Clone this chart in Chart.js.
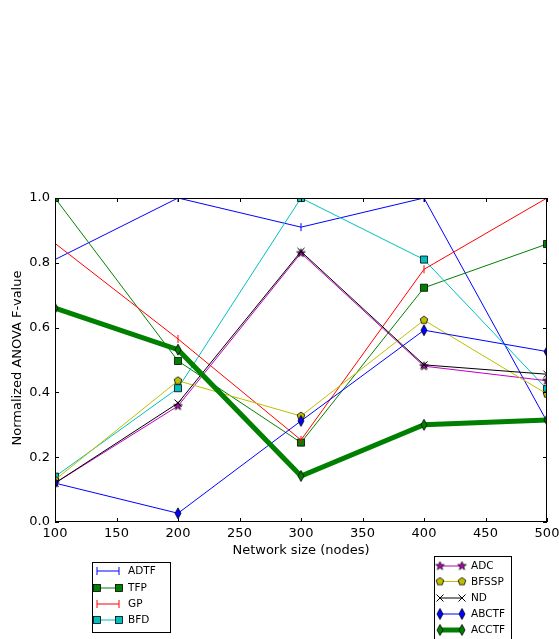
<!DOCTYPE html>
<html>
<head>
<meta charset="utf-8">
<script src="https://cdn.jsdelivr.net/npm/chart.js@4"></script>
<style>
  html, body { margin: 0; padding: 0; background: #fff; }
  #wrap { width: 559px; height: 639px; position: relative; }
</style>
</head>
<body>
<div id="wrap"><canvas id="anovaChart"></canvas></div>
<script>
// network sizes on x
const networkSizes = [100, 200, 300, 400, 500];

// normalized ANOVA F-values per method
const adtf  = [0.81, 1.00, 0.91, 1.00, 0.31];
const tfp   = [1.00, 0.497, 0.245, 0.723, 0.858];
const gp    = [0.86, 0.565, 0.253, 0.78, 1.00];
const bfd   = [0.14, 0.413, 1.00, 0.81, 0.41];
const adc   = [0.12, 0.358, 0.83, 0.481, 0.436];
const bfssp = [0.13, 0.436, 0.327, 0.623, 0.395];
const nd    = [0.12, 0.367, 0.835, 0.485, 0.456];
const abctf = [0.12, 0.027, 0.312, 0.592, 0.526];
const acctf = [0.66, 0.532, 0.142, 0.30, 0.315];

const xTicks = [100, 150, 200, 250, 300, 350, 400, 450, 500];
const yTicks = [0.0, 0.2, 0.4, 0.6, 0.8, 1.0];

const FONT = "'DejaVu Sans', sans-serif";

function markerImg(kind, fill, w, h) {
  const c = document.createElement("canvas");
  c.width = w + 2; c.height = h + 2;
  const g = c.getContext("2d");
  const cx = c.width / 2, cy = c.height / 2;
  g.beginPath();
  if (kind === "star") {
    const R = w / 2, r = R * 0.4;
    for (let i = 0; i < 10; i++) {
      const a = -Math.PI / 2 + i * Math.PI / 5;
      const rr = i % 2 ? r : R;
      g.lineTo(cx + rr * Math.cos(a), cy + rr * Math.sin(a));
    }
  } else if (kind === "pent") {
    const R = w / 2;
    for (let i = 0; i < 5; i++) {
      const a = -Math.PI / 2 + i * 2 * Math.PI / 5;
      g.lineTo(cx + R * Math.cos(a), cy + R * Math.sin(a));
    }
  } else if (kind === "diamond") {
    g.moveTo(cx, cy - h / 2);
    g.lineTo(cx + w / 2, cy);
    g.lineTo(cx, cy + h / 2);
    g.lineTo(cx - w / 2, cy);
  }
  g.closePath();
  g.fillStyle = fill;
  g.fill();
  g.lineWidth = 0.8;
  g.strokeStyle = "#000";
  g.stroke();
  return c;
}

const starM = markerImg("star", "#bf00bf", 9, 9);
const pentM = markerImg("pent", "#bfbf00", 8, 8);
const diaBlue = markerImg("diamond", "#0000ff", 6, 11);
const diaGreen = markerImg("diamond", "#008000", 6, 11);

function ds(label, data, color, style, extra) {
  return Object.assign({
    label,
    data: data.map((v, i) => ({ x: networkSizes[i], y: v })),
    borderColor: color,
    backgroundColor: color,
    borderWidth: 1,
    pointStyle: style,
    pointRadius: 4,
    pointBorderColor: "#000",
    pointBorderWidth: 0.8,
    pointHoverRadius: 4,
    tension: 0,
    clip: 0,
  }, extra || {});
}

const datasets = [
  ds("ADTF", adtf, "#0000ff", "line", { pointRotation: 90, pointBorderColor: "#0000ff", pointBorderWidth: 1 }),
  ds("TFP", tfp, "#008000", "rect", { pointRadius: 5 }),
  ds("GP", gp, "#ff0000", "line", { pointRotation: 90, pointBorderColor: "#ff0000", pointBorderWidth: 1 }),
  ds("BFD", bfd, "#00bfbf", "rect", { pointRadius: 5 }),
  ds("ADC", adc, "#bf00bf", starM),
  ds("BFSSP", bfssp, "#bfbf00", pentM),
  ds("ND", nd, "#000000", "crossRot", { pointRadius: 5, pointBorderWidth: 1 }),
  ds("ABCTF", abctf, "#0000ff", diaBlue),
  ds("ACCTF", acctf, "#008000", diaGreen, { borderWidth: 5 }),
];
datasets.forEach((d, i) => { d.order = datasets.length - i; });

const legendA = ["ADTF", "TFP", "GP", "BFD"];
const legendB = ["ADC", "BFSSP", "ND", "ABCTF", "ACCTF"];

function legendMarker(ctx, d, x, y) {
  const st = d.pointStyle;
  if (st instanceof HTMLCanvasElement) {
    ctx.drawImage(st, x - st.width / 2, y - st.height / 2);
  } else if (st === "line") {
    ctx.strokeStyle = d.borderColor; ctx.lineWidth = 1;
    ctx.beginPath(); ctx.moveTo(x, y - 4); ctx.lineTo(x, y + 4); ctx.stroke();
  } else if (st === "rect") {
    ctx.fillStyle = d.backgroundColor;
    ctx.fillRect(x - 3.5, y - 3.5, 7, 7);
    ctx.strokeStyle = "#000"; ctx.lineWidth = 0.8;
    ctx.strokeRect(x - 3.5, y - 3.5, 7, 7);
  } else if (st === "crossRot") {
    ctx.strokeStyle = "#000"; ctx.lineWidth = 1;
    ctx.beginPath();
    ctx.moveTo(x - 3.5, y - 3.5); ctx.lineTo(x + 3.5, y + 3.5);
    ctx.moveTo(x + 3.5, y - 3.5); ctx.lineTo(x - 3.5, y + 3.5);
    ctx.stroke();
  }
}

function drawLegend(ctx, names, box, x0, x1, tx, ys) {
  ctx.save();
  ctx.fillStyle = "#fff";
  ctx.fillRect(box.x, box.y, box.w, box.h);
  ctx.strokeStyle = "#000"; ctx.lineWidth = 1;
  ctx.strokeRect(box.x + 0.5, box.y + 0.5, box.w, box.h);
  names.forEach((n, i) => {
    const d = datasets.find(s => s.label === n);
    const y = ys[i];
    ctx.strokeStyle = d.borderColor;
    ctx.lineWidth = d.borderWidth;
    ctx.beginPath(); ctx.moveTo(x0, y); ctx.lineTo(x1, y); ctx.stroke();
    legendMarker(ctx, d, x0, y);
    legendMarker(ctx, d, x1, y);
    ctx.fillStyle = "#000";
    ctx.font = "10.5px " + FONT;
    ctx.textAlign = "left"; ctx.textBaseline = "middle";
    ctx.fillText(n, tx, y + 0.5);
  });
  ctx.restore();
}

const framePlugin = {
  id: "frame",
  afterDraw(chart) {
    const { ctx, chartArea: a, scales } = chart;
    ctx.save();
    ctx.strokeStyle = "#000"; ctx.lineWidth = 1;
    ctx.strokeRect(Math.round(a.left) + 0.5, Math.round(a.top) + 0.5,
      Math.round(a.right - a.left) - 1, Math.round(a.bottom - a.top) - 1);
    // inward ticks on all four sides
    ctx.beginPath();
    xTicks.forEach(v => {
      const px = Math.round(scales.x.getPixelForValue(v)) + 0.5;
      ctx.moveTo(px, a.bottom); ctx.lineTo(px, a.bottom - 4);
      ctx.moveTo(px, a.top); ctx.lineTo(px, a.top + 4);
    });
    yTicks.forEach(v => {
      const py = Math.round(scales.y.getPixelForValue(v)) + 0.5;
      ctx.moveTo(a.left, py); ctx.lineTo(a.left + 4, py);
      ctx.moveTo(a.right, py); ctx.lineTo(a.right - 4, py);
    });
    ctx.stroke();

    ctx.fillStyle = "#000";
    ctx.font = "13px " + FONT;
    ctx.textAlign = "center"; ctx.textBaseline = "middle";
    ctx.fillText("Network size (nodes)", (a.left + a.right) / 2, 551);
    ctx.translate(18, (a.top + a.bottom) / 2 - 2);
    ctx.rotate(-Math.PI / 2);
    ctx.fillText("Normalized ANOVA F-value", 0, 0);
    ctx.restore();

    drawLegend(ctx, legendA, { x: 92, y: 562, w: 78, h: 70 }, 97, 119, 128, [571, 588, 604, 620]);
    drawLegend(ctx, legendB, { x: 434, y: 556, w: 77, h: 90 }, 440, 462, 471, [566, 581.5, 598, 614, 630]);
  }
};

new Chart(document.getElementById("anovaChart"), {
  type: "line",
  data: { datasets },
  options: {
    responsive: true,
    maintainAspectRatio: false,
    animation: false,
    layout: { padding: { top: 198, right: 12, left: 0, bottom: 0 } },
    plugins: { legend: { display: false }, tooltip: { enabled: false } },
    scales: {
      x: {
        type: "linear", min: 100, max: 500,
        afterBuildTicks: s => { s.ticks = xTicks.map(v => ({ value: v })); },
        afterFit: s => { s.height = 117; s.paddingLeft = 0; s.paddingRight = 0; },
        grid: { display: false, drawTicks: false }, border: { display: false },
        ticks: { color: "#000", font: { family: FONT, size: 13 }, padding: 4, maxRotation: 0, autoSkip: false },
      },
      y: {
        min: 0, max: 1,
        afterBuildTicks: s => { s.ticks = yTicks.map(v => ({ value: v })); },
        afterFit: s => { s.width = 55; s.paddingTop = 0; s.paddingBottom = 0; },
        grid: { display: false, drawTicks: false }, border: { display: false },
        ticks: { color: "#000", font: { family: FONT, size: 13 }, padding: 5, callback: v => v.toFixed(1) },
      },
    },
  },
  plugins: [framePlugin],
});
</script>
</body>
</html>
